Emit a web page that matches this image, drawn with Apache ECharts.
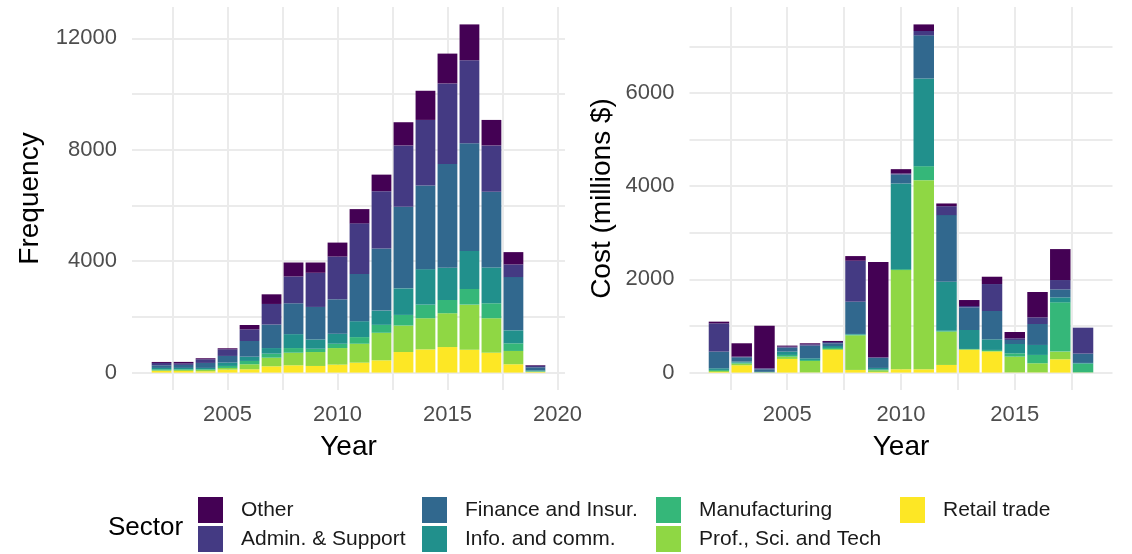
<!DOCTYPE html>
<html>
<head>
<meta charset="utf-8">
<script src="https://cdn.jsdelivr.net/npm/echarts@6/dist/echarts.min.js"></script>
<style>
  html, body { margin: 0; padding: 0; background: #fff; }
  #chart { width: 1132px; height: 554px; }
</style>
</head>
<body>
<div id="chart"></div>
<script>
// sectors from the bottom of each stack to the top
const sectors = ['Retail trade', 'Prof., Sci. and Tech', 'Manufacturing', 'Info. and comm.', 'Finance and Insur.', 'Admin. & Support', 'Other']
const sectorColors = ['#FDE725', '#8FD744', '#35B779', '#21908C', '#31688E', '#443A83', '#440154']

// left panel: number of incidents per year
const freqYears = [2002, 2003, 2004, 2005, 2006, 2007, 2008, 2009, 2010, 2011, 2012, 2013, 2014, 2015, 2016, 2017, 2018, 2019]
const freqRetail = [60, 60, 48, 108, 119, 226, 262, 238, 286, 357, 440, 738, 833, 917, 821, 714, 299, 20]
const freqProf = [24, 36, 48, 59, 180, 310, 452, 500, 595, 679, 989, 952, 1119, 1214, 1619, 1238, 478, 15]
const freqManuf = [35, 24, 24, 72, 119, 143, 167, 119, 155, 238, 285, 381, 488, 476, 560, 536, 274, 15]
const freqInfo = [48, 48, 48, 120, 155, 202, 500, 333, 357, 571, 512, 953, 1274, 1155, 1369, 1286, 466, 30]
const freqFinance = [96, 108, 179, 239, 562, 845, 1107, 1167, 1238, 1691, 2226, 2928, 3000, 3726, 3869, 2714, 1912, 110]
const freqAdmin = [83, 60, 132, 239, 418, 738, 964, 1226, 1536, 1821, 2060, 2203, 2357, 2893, 2976, 1667, 454, 60]
const freqOther = [36, 48, 36, 36, 155, 346, 500, 369, 500, 512, 595, 833, 1047, 1071, 1286, 916, 442, 20]

// right panel: cost in millions of dollars per year
const costYears = [2002, 2003, 2004, 2005, 2006, 2007, 2008, 2009, 2010, 2011, 2012, 2013, 2014, 2015, 2016, 2017, 2018]
const costRetail = [14, 157, 3, 293, 5, 486, 57, 14, 71, 71, 164, 486, 450, 5, 5, 286, 0]
const costProf = [22, 36, 3, 50, 245, 21, 743, 36, 2129, 4058, 715, 14, 14, 338, 195, 164, 7]
const costManuf = [21, 21, 3, 36, 21, 22, 14, 14, 20, 300, 20, 7, 22, 71, 179, 1057, 186]
const costInfo = [36, 22, 7, 71, 36, 42, 15, 36, 1838, 1879, 1051, 407, 228, 200, 214, 107, 14]
const costFinance = [357, 93, 55, 86, 272, 58, 692, 214, 193, 928, 1429, 486, 607, 86, 450, 172, 200]
const costAdmin = [607, 14, 21, 21, 28, 28, 879, 14, 21, 93, 192, 29, 579, 36, 143, 200, 557]
const costOther = [36, 286, 915, 22, 22, 22, 100, 2043, 93, 142, 58, 128, 157, 135, 543, 664, 0]

// gridlines and tick labels
const freqYTicks = [0, 2000, 4000, 6000, 8000, 10000, 12000]
const freqYLabels = [0, 4000, 8000, 12000]
const costYTicks = [0, 1000, 2000, 3000, 4000, 5000, 6000, 7000]
const costYLabels = [0, 2000, 4000, 6000]
const freqXTicks = [2002.5, 2005, 2007.5, 2010, 2012.5, 2015, 2017.5, 2020]
const freqXLabels = [2005, 2010, 2015, 2020]
const costXTicks = [2002.5, 2005, 2007.5, 2010, 2012.5, 2015, 2017.5]
const costXLabels = [2005, 2010, 2015]

const legendColumns = [
	['Other', 'Admin. & Support'],
	['Finance and Insur.', 'Info. and comm.'],
	['Manufacturing', 'Prof., Sci. and Tech'],
	['Retail trade']
]

const font = "'Liberation Sans', Arial, Helvetica, sans-serif"
// plotting areas of the two panels
const panelBoxes = [
	{left: 132, top: 7, width: 433, height: 383},
	{left: 689.5, top: 7, width: 423, height: 383}
]

// ggplot style 5% expansion
function padded(lo, hi) {
	const p = (hi - lo) * 0.05
	return [lo - p, hi + p]
}

const panels = [
	{years: freqYears, stack: 'freq', name: 'Frequency', nameGap: 88,
		values: [freqRetail, freqProf, freqManuf, freqInfo, freqFinance, freqAdmin, freqOther],
		yTicks: freqYTicks, yLabels: freqYLabels, xTicks: freqXTicks, xLabels: freqXLabels},
	{years: costYears, stack: 'cost', name: 'Cost (millions $)', nameGap: 73,
		values: [costRetail, costProf, costManuf, costInfo, costFinance, costAdmin, costOther],
		yTicks: costYTicks, yLabels: costYLabels, xTicks: costXTicks, xLabels: costXLabels}
]

const grids = []
const xAxes = []
const yAxes = []
const series = []
const plain = v => String(v)

panels.forEach((p, k) => {
	const box = panelBoxes[k]
	const totals = p.years.map((_, i) => p.values.reduce((s, arr) => s + arr[i], 0))
	const xr = padded(p.years[0] - 0.45, p.years[p.years.length - 1] + 0.45)
	const yr = padded(0, Math.max(...totals))
	const pxPerYear = box.width / (xr[1] - xr[0])

	// background grid: value axes with gridlines, labels and titles
	grids.push(box)
	xAxes.push({
		type: 'value', gridIndex: 2 * k, min: xr[0], max: xr[1],
		name: 'Year', nameLocation: 'middle', nameGap: 43,
		nameTextStyle: {fontSize: 28, color: '#000', fontFamily: font},
		axisLine: {show: false},
		axisTick: {show: false, customValues: p.xTicks},
		axisLabel: {customValues: p.xLabels, formatter: plain, fontSize: 22, color: '#4D4D4D', fontFamily: font, margin: 14},
		splitLine: {show: true, lineStyle: {color: '#EBEBEB', width: 2}}
	})
	yAxes.push({
		type: 'value', gridIndex: 2 * k, min: yr[0], max: yr[1],
		name: p.name, nameLocation: 'middle', nameGap: p.nameGap,
		nameTextStyle: {fontSize: 28, color: '#000', fontFamily: font},
		axisLine: {show: false},
		axisTick: {show: false, customValues: p.yTicks},
		axisLabel: {customValues: p.yLabels, formatter: plain, fontSize: 22, color: '#4D4D4D', fontFamily: font, margin: 15},
		splitLine: {show: true, lineStyle: {color: '#EBEBEB', width: 2}}
	})

	// bar grid: one category band per year, lined up with the value axis above
	grids.push({
		left: box.left + (p.years[0] - 0.5 - xr[0]) * pxPerYear,
		width: p.years.length * pxPerYear,
		top: box.top,
		height: box.height
	})
	xAxes.push({type: 'category', gridIndex: 2 * k + 1, data: p.years, show: false})
	yAxes.push({type: 'value', gridIndex: 2 * k + 1, min: yr[0], max: yr[1], show: false})

	sectors.forEach((s, j) => {
		series.push({
			name: s,
			type: 'bar',
			stack: p.stack,
			xAxisIndex: 2 * k + 1,
			yAxisIndex: 2 * k + 1,
			barWidth: '90%',
			itemStyle: {color: sectorColors[j]},
			data: p.values[j]
		})
	})
})

const legendLeft = [198, 422, 656, 900]
const legends = legendColumns.map((col, i) => ({
	data: col,
	orient: 'vertical',
	left: legendLeft[i],
	top: 497,
	padding: 0,
	icon: 'rect',
	itemWidth: 25,
	itemHeight: 26,
	itemGap: 3,
	selectedMode: false,
	textStyle: {fontSize: 21, color: '#1A1A1A', fontFamily: font, padding: [0, 0, 0, 13]}
}))

const chart = echarts.init(document.getElementById('chart'))
chart.setOption({
	animation: false,
	title: {
		text: 'Sector', left: 103, top: 510,
		textStyle: {fontSize: 26, fontWeight: 'normal', color: '#000', fontFamily: font}
	},
	legend: legends,
	grid: grids,
	xAxis: xAxes,
	yAxis: yAxes,
	series: series
})
</script>
</body>
</html>
